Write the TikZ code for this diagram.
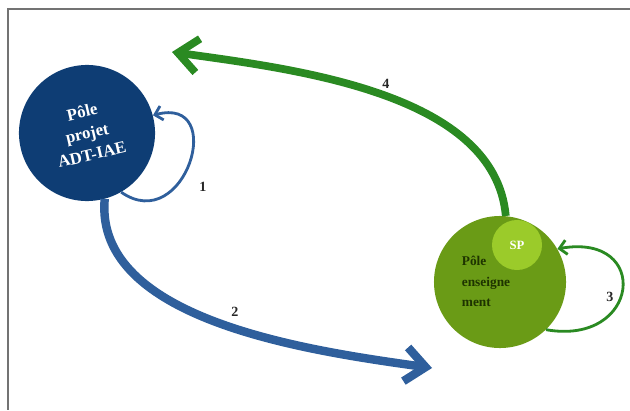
\documentclass[tikz,border=0pt]{standalone}
\usepackage{fontspec}
\setmainfont{Liberation Serif}
\usetikzlibrary{arrows.meta}
\definecolor{poleblue}{HTML}{0E3D74}
\definecolor{arrowblue}{HTML}{2F5F9C}
\definecolor{polegreen}{HTML}{6A9B16}
\definecolor{spgreen}{HTML}{9BCB2A}
\definecolor{arrowgreen}{HTML}{2A8A22}
\definecolor{textgreen}{HTML}{1E3300}
\begin{document}
\begin{tikzpicture}[x=0.025cm,y=0.025cm,
    pole/.style={circle,inner sep=0pt,font=\bfseries},
    bigarrow/.style={line width=6pt,-{Straight Barb[length=0.5cm,width=0.85cm]}},
    looparrow/.style={line width=2pt,-{Straight Barb[length=0.18cm,width=0.36cm]}},
    num/.style={font=\fontsize{10}{12}\selectfont\bfseries,text=black!85}]
  \useasboundingbox (0,0) rectangle (630,410);
  \draw[line width=1.4pt,black!55] (630,401) -- (8,401) -- (8,0);
  \draw
    (87,277) node[pole,fill=poleblue,minimum size=3.4cm,rotate=13,align=center,
      text=white,font=\fontsize{12}{15.5}\selectfont\bfseries] (projet){P\^ole\\projet\\ADT-IAE}
    (500,128) node[pole,fill=polegreen,minimum size=3.3cm,text=textgreen,
      font=\fontsize{9.5}{14.5}\selectfont\bfseries]
      (enseignement){\begin{tabular}{@{}l@{}}P\^ole\\enseigne\\ment\end{tabular}\kern0.7cm}
    (517,165) node[pole,fill=spgreen,minimum size=1.25cm,text=white,
      font=\fontsize{9}{10}\selectfont\bfseries] (sp){SP}
    (432,42) coordinate (tip2)
    (172,358) coordinate (tip4);
  \begin{scope}[arrowblue]
    \draw[looparrow] (projet.-73) to[out=-35,in=15,looseness=2.4] (projet.2);
    \draw[bigarrow] (projet.-88) to[out=-95,in=172,looseness=0.85] (tip2);
  \end{scope}
  \begin{scope}[arrowgreen]
    \draw[looparrow] (enseignement.-46) to[out=-10,in=10,looseness=3] (enseignement.30);
    \draw[bigarrow,line width=5.5pt] (enseignement.85) to[out=95,in=-8,looseness=0.85] (tip4);
  \end{scope}
  \draw
    (203,223) node[num] (n1){1}
    (235,98) node[num] (n2){2}
    (610,113) node[num] (n3){3}
    (386,326) node[num] (n4){4};
\end{tikzpicture}
\end{document}
